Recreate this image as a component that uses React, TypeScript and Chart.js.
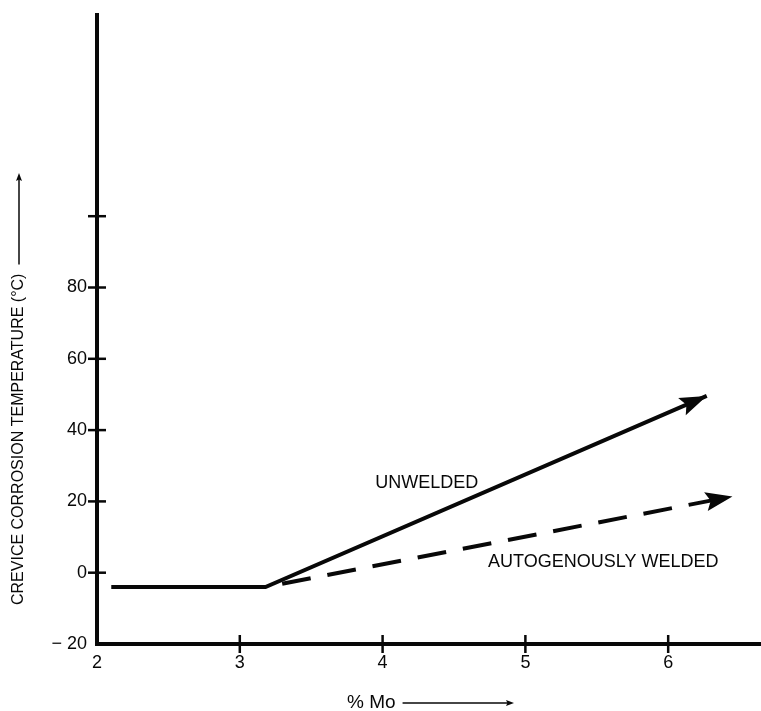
import React, { useEffect, useRef } from "react";
import { Chart, registerables } from "chart.js";

Chart.register(...registerables);

// ---- data ----
const unweldedX = [2.1, 3.18, 6.27];
const unweldedY = [-4, -4, 49.6];
const weldedX = [3.18, 6.45];
const weldedY = [-4, 21.4];

const seriesNames = ["UNWELDED", "AUTOGENOUSLY WELDED"];

const yTickValues = [-20, 0, 20, 40, 60, 80, 100];
const yTickLabels = ["\u2212 20", "0", "20", "40", "60", "80", ""];
const xTickValues = [2, 3, 4, 5, 6];
const xTickLabels = ["2", "3", "4", "5", "6"];

const yTitle = "CREVICE CORROSION TEMPERATURE (\u00B0C)";
const xTitle = "% Mo";

// ---- placement of the in-plot labels (data coordinates) ----
const labelAnchors = [
  { x: 4.31, y: 25.2 },
  { x: 5.545, y: 3.1 },
];

const FONT = '"Liberation Sans", Arial, Helvetica, sans-serif';
const INK = "#080808";

function arrowHead(ctx: CanvasRenderingContext2D, x1: number, y1: number, x2: number, y2: number, len: number, half: number) {
  const a = Math.atan2(y2 - y1, x2 - x1);
  const c = Math.cos(a), s = Math.sin(a);
  ctx.beginPath();
  ctx.moveTo(x2, y2);
  ctx.lineTo(x2 - len * c + half * s, y2 - len * s - half * c);
  ctx.lineTo(x2 - len * 0.82 * c, y2 - len * 0.82 * s);
  ctx.lineTo(x2 - len * c - half * s, y2 - len * s + half * c);
  ctx.closePath();
  ctx.fill();
}

const decorPlugin = {
  id: "decor",
  beforeDatasetsDraw(chart: any) {
    const ctx: CanvasRenderingContext2D = chart.ctx;
    const { left, right, top, bottom } = chart.chartArea;
    const xs = chart.scales.x, ys = chart.scales.y;
    ctx.save();
    ctx.strokeStyle = INK;
    ctx.lineWidth = 4;
    ctx.lineCap = "butt";
    ctx.beginPath();
    ctx.moveTo(left, top);
    ctx.lineTo(left, bottom + 2);
    ctx.moveTo(left - 2, bottom);
    ctx.lineTo(right, bottom);
    ctx.stroke();
    ctx.lineWidth = 2.5;
    yTickValues.forEach((v) => {
      if (v === yTickValues[0]) return;
      const y = ys.getPixelForValue(v);
      ctx.beginPath();
      ctx.moveTo(left - 9, y);
      ctx.lineTo(left + 9, y);
      ctx.stroke();
    });
    xTickValues.forEach((v) => {
      if (v === xTickValues[0]) return;
      const x = xs.getPixelForValue(v);
      ctx.beginPath();
      ctx.moveTo(x, bottom - 9);
      ctx.lineTo(x, bottom + 9);
      ctx.stroke();
    });
    ctx.restore();
  },
  afterDatasetsDraw(chart: any) {
    const ctx: CanvasRenderingContext2D = chart.ctx;
    ctx.save();
    ctx.fillStyle = INK;
    chart.data.datasets.forEach((_: any, i: number) => {
      const pts = chart.getDatasetMeta(i).data;
      const a = pts[pts.length - 2], b = pts[pts.length - 1];
      arrowHead(ctx, a.x, a.y, b.x, b.y, 27, 9.5);
    });
    ctx.restore();
  },
  afterDraw(chart: any) {
    const ctx: CanvasRenderingContext2D = chart.ctx;
    const xs = chart.scales.x, ys = chart.scales.y;
    ctx.save();
    ctx.fillStyle = INK;
    ctx.strokeStyle = INK;
    ctx.font = `18px ${FONT}`;
    ctx.textAlign = "center";
    ctx.textBaseline = "middle";
    seriesNames.forEach((name, i) => {
      ctx.fillText(name, xs.getPixelForValue(labelAnchors[i].x), ys.getPixelForValue(labelAnchors[i].y));
    });

    // x title with arrow
    ctx.font = `19px ${FONT}`;
    ctx.textAlign = "left";
    const xt0 = 347, xty = 703;
    ctx.fillText(xTitle, xt0, xty);
    const xw = ctx.measureText(xTitle).width;
    ctx.lineWidth = 1.5;
    ctx.beginPath();
    ctx.moveTo(xt0 + xw + 7, xty);
    ctx.lineTo(508, xty);
    ctx.stroke();
    arrowHead(ctx, 400, xty, 514, xty, 8, 3);

    // y title with arrow (rotated)
    ctx.font = `16px ${FONT}`;
    ctx.translate(19, 605);
    ctx.rotate(-Math.PI / 2);
    ctx.fillText(yTitle, 0, 0);
    const yw = ctx.measureText(yTitle).width;
    ctx.beginPath();
    ctx.moveTo(yw + 9, 0);
    ctx.lineTo(426, 0);
    ctx.stroke();
    arrowHead(ctx, 300, 0, 432, 0, 8, 3);
    ctx.restore();
  },
};

export default function App() {
  const ref = useRef<HTMLCanvasElement | null>(null);
  useEffect(() => {
    if (!ref.current) return;
    const chart = new Chart(ref.current, {
      type: "line",
      data: {
        datasets: [
          {
            label: seriesNames[0],
            data: unweldedX.map((x, i) => ({ x, y: unweldedY[i] })),
            borderColor: INK,
            borderWidth: 4,
            pointRadius: 0,
            tension: 0,
            fill: false,
            borderJoinStyle: "miter",
          },
          {
            label: seriesNames[1],
            data: weldedX.map((x, i) => ({ x, y: weldedY[i] })),
            borderColor: INK,
            borderWidth: 4,
            borderDash: [29, 17],
            borderDashOffset: 29,
            pointRadius: 0,
            tension: 0,
            fill: false,
          },
        ],
      },
      options: {
        animation: false,
        responsive: false,
        maintainAspectRatio: false,
        layout: { padding: { top: 13, right: 0, left: 0, bottom: 0 } },
        plugins: { legend: { display: false }, tooltip: { enabled: false }, title: { display: false } },
        scales: {
          x: {
            type: "linear",
            min: 2,
            max: 6.65,
            grid: { display: false, drawTicks: false },
            border: { display: false },
            afterBuildTicks: (s: any) => {
              s.ticks = xTickValues.map((v) => ({ value: v }));
            },
            afterFit: (s: any) => {
              s.height = 67;
              s.paddingLeft = 0;
              s.paddingRight = 0;
            },
            ticks: {
              autoSkip: false,
              maxRotation: 0,
              padding: 8,
              color: INK,
              font: { family: FONT, size: 18 },
              callback: (v: any) => xTickLabels[xTickValues.indexOf(Number(v))] ?? "",
            },
          },
          y: {
            type: "linear",
            min: -20,
            max: 157,
            grid: { display: false, drawTicks: false },
            border: { display: false },
            afterBuildTicks: (s: any) => {
              s.ticks = yTickValues.map((v) => ({ value: v }));
            },
            afterFit: (s: any) => {
              s.width = 97;
              s.paddingTop = 0;
              s.paddingBottom = 0;
            },
            ticks: {
              autoSkip: false,
              padding: 10,
              color: INK,
              font: { family: FONT, size: 18 },
              callback: (v: any) => yTickLabels[yTickValues.indexOf(Number(v))] ?? "",
            },
          },
        },
      },
      plugins: [decorPlugin],
    });
    return () => chart.destroy();
  }, []);
  return (
    <div style={{ position: "fixed", left: 0, top: 0, width: 761, height: 711, background: "#fff" }}>
      <canvas ref={ref} width={761} height={711} style={{ display: "block" }} />
    </div>
  );
}
